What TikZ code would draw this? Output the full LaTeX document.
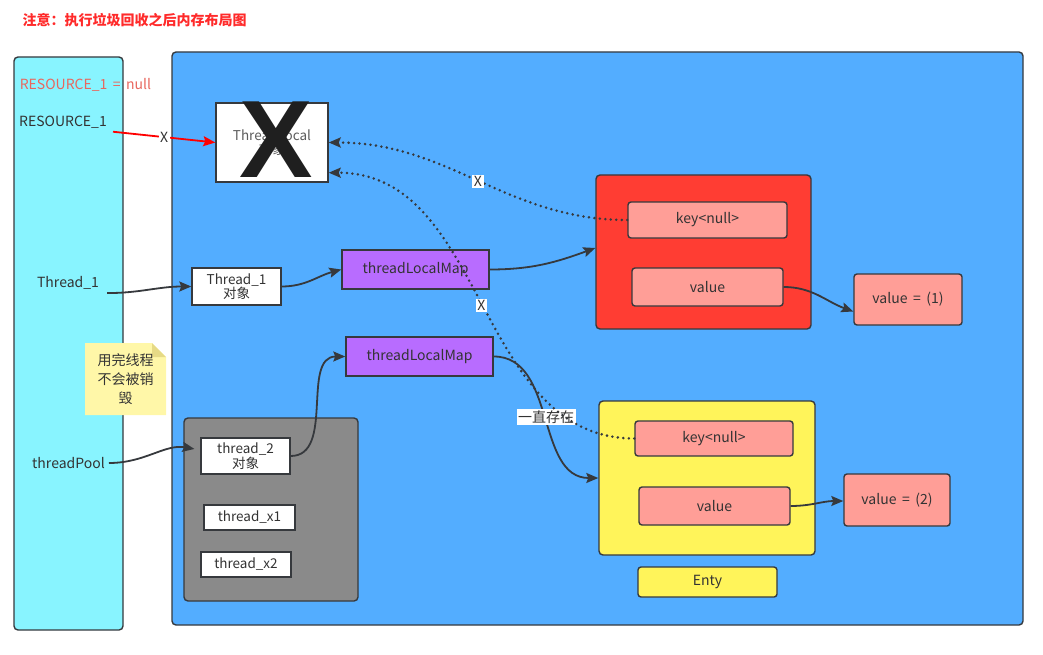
\documentclass[tikz,border=0pt]{standalone}
\usepackage{fontspec}
\setmainfont{Noto Sans CJK SC}
\newfontfamily\crossfont{Liberation Sans}
\usetikzlibrary{arrows.meta,positioning}
\definecolor{linegray}{HTML}{36393D}
\definecolor{txtgray}{HTML}{333333}
\definecolor{cyanp}{HTML}{88F4FF}
\definecolor{bluep}{HTML}{53ADFF}
\definecolor{redp}{HTML}{FF3D33}
\definecolor{pinkp}{HTML}{FF9E97}
\definecolor{purplep}{HTML}{B86CFF}
\definecolor{yellowp}{HTML}{FFF45A}
\definecolor{grayp}{HTML}{8A8A8A}
\definecolor{notep}{HTML}{FFF7A8}
\definecolor{notefold}{HTML}{E6DA86}
\definecolor{titlered}{HTML}{FF2A2A}
\definecolor{nullred}{HTML}{E8675E}
\tikzset{
  panel/.style={draw=linegray, line width=1.4pt, rounded corners=4pt},
  plainbox/.style={draw=linegray, line width=1.4pt, fill=white, align=center, inner sep=1pt,
    font=\fontsize{13.5}{14.5}\selectfont},
  cell/.style={draw=linegray, line width=1.4pt, rounded corners=3pt, fill=pinkp},
  conn/.style={draw=linegray, line width=1.8pt, -{Stealth[length=12pt,width=10pt,inset=2pt]}},
  weakref/.style={draw=linegray, line width=2.8pt, dash pattern=on 0pt off 5.5pt, line cap=round,
    -{Stealth[length=12pt,width=10pt,inset=2pt]}},
  tag/.style={fill=white, inner sep=1.5pt, font=\fontsize{14}{15}\selectfont}
}
\begin{document}
\begin{tikzpicture}[x=1pt,y=-1pt,
  every node/.style={font=\fontsize{14}{16}\selectfont, text=txtgray}]
\useasboundingbox (0,0) rectangle (1043,655);
% title
\node[anchor=west, text=titlered, font=\fontsize{14}{16}\selectfont\bfseries] (title) at (19,20) {注意：执行垃圾回收之后内存布局图};
% stack and heap
\node[panel, fill=cyanp, minimum width=109pt, minimum height=573pt] (stack) at (68.5,343.5) {};
\node[panel, fill=bluep, minimum width=851pt, minimum height=573pt] (heap) at (597.5,338.5) {};
\node[text=nullred] (resnull) at (85.5,85) {RESOURCE\_1\ \,=\ \,null};
\node[inner xsep=6pt] (res) at (63,122) {RESOURCE\_1};
\node[inner xsep=8pt] (th1) at (68,283) {Thread\_1};
\node[inner xsep=4pt] (pool) at (68.5,463) {threadPool};
% ThreadLocal object, collected
\node[plainbox, text=txtgray!80, minimum width=112pt, minimum height=79pt] (tl) at (272,142.5) {ThreadLocal\\对象};
\node[inner sep=0pt, text=black!88, font=\crossfont\fontsize{110}{110}\selectfont\bfseries] (bigx) at (276,140) {X};
% thread 1
\node[plainbox, minimum width=89pt, minimum height=37pt] (t1obj) at (236.5,286.5) {Thread\_1\\对象};
\node[draw=linegray, line width=1.4pt, fill=purplep, minimum width=147pt, minimum height=39pt] (map1) at (415.5,269.5) {threadLocalMap};
\node[panel, fill=redp, minimum width=215pt, minimum height=154pt] (entry1) at (703.5,252) {};
\node[cell, minimum width=159pt, minimum height=36pt] (key1) at (707.5,220) {key<null>};
\node[cell, minimum width=151pt, minimum height=38pt] (val1) at (707.5,287) {value};
\node[cell, minimum width=108pt, minimum height=51pt] (obj1) at (908,299.5) {value\ \,=\ \,(1)};
% thread pool
\node[panel, fill=grayp, minimum width=174pt, minimum height=183pt] (grp) at (271,509.5) {};
\node[plainbox, minimum width=89pt, minimum height=36pt] (t2obj) at (245.5,456) {thread\_2\\对象};
\node[plainbox, minimum width=91pt, minimum height=25pt] (tx1) at (249.5,517.5) {thread\_x1};
\node[plainbox, minimum width=90pt, minimum height=25pt] (tx2) at (246,564.5) {thread\_x2};
\node[draw=linegray, line width=1.4pt, fill=purplep, minimum width=147pt, minimum height=39pt] (map2) at (419.5,356.5) {threadLocalMap};
\node[panel, fill=yellowp, minimum width=216pt, minimum height=154pt] (entry2) at (707,478) {};
\node[cell, minimum width=158pt, minimum height=35pt] (key2) at (714,438.5) {key<null>};
\node[cell, minimum width=151pt, minimum height=38pt] (val2) at (714.5,506) {value};
\node[cell, minimum width=106pt, minimum height=52pt] (obj2) at (897,500) {value\ \,=\ \,(2)};
\node[panel, fill=yellowp, rounded corners=3pt, minimum width=139pt, minimum height=30pt] (enty) at (707.5,582) {Enty};
% sticky note
\fill[notep] (85,343) -- (152,343) -- (166,357) -- (166,415) -- (85,415) -- cycle;
\fill[notefold] (152,343) -- (166,357) -- (152,357) -- cycle;
\node[align=center, font=\fontsize{14}{19}\selectfont] (note) at (125.5,379) {用完线程\\不会被销\\毁};
% references
\draw[conn, draw=red, red] (res.south east) -- node[tag, text=txtgray] {X} (tl.west);
\draw[conn] (th1.south east) to[out=0,in=180] (t1obj.west);
\draw[conn] (t1obj.east) to[out=0,in=195] (map1.west);
\draw[conn] (map1.east) to[out=0,in=200] ([yshift=4pt]entry1.west);
\draw[conn] (val1.east) to[out=0,in=160] ([yshift=-12pt]obj1.west);
\draw[conn, shorten >=6pt] (pool.east) to[out=0,in=170] ([yshift=6pt]t2obj.west);
\draw[conn] (t2obj.east) to[out=0,in=180] (map2.west);
\draw[conn] (map2.east) to[out=0,in=180] node[tag] {一直存在} (entry2.west);
\draw[conn] (val2.east) to[out=0,in=180] ([yshift=-1pt]obj2.west);
\draw[weakref] (key1.west) to[out=180,in=0] node[tag] {X} (tl.east);
\draw[weakref] (key2.west) to[out=180,in=0] node[tag] {X} ([yshift=10pt]tl.south east);
\end{tikzpicture}
\end{document}
